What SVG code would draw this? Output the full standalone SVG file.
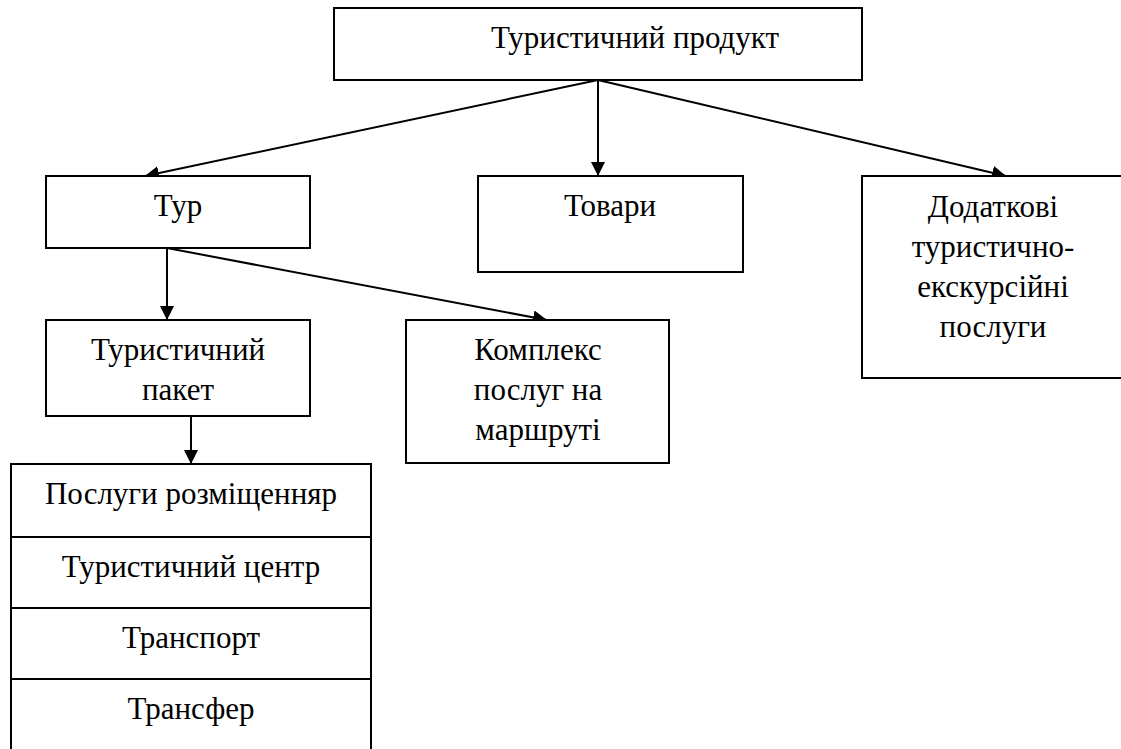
<svg xmlns="http://www.w3.org/2000/svg" width="1121" height="749" viewBox="0 0 1121 749">
<style>
.box{fill:#fff;stroke:#000;stroke-width:2}
.c{stroke:#000;stroke-width:2;fill:none;marker-end:url(#ah)}
</style>
<defs>
<marker id="ah" markerWidth="16" markerHeight="16" refX="14" refY="7" orient="auto" markerUnits="userSpaceOnUse">
<path d="M0,0 L14,7 L0,14 Z" fill="#000"/>
</marker>
</defs>
<rect width="1121" height="749" fill="#fff"/>
<g id="connectors">
<line class="c" x1="598" y1="80" x2="145" y2="176"/>
<line class="c" x1="598" y1="80" x2="598" y2="176"/>
<line class="c" x1="598" y1="80" x2="1006" y2="176"/>
<line class="c" x1="167" y1="248" x2="167" y2="320"/>
<line class="c" x1="167" y1="248" x2="547" y2="320"/>
<line class="c" x1="191" y1="416" x2="191" y2="464"/>
</g>
<g font-family="Liberation Serif" font-size="31" text-anchor="middle" fill="#000">
<g id="product">
<rect class="box" x="334" y="8" width="528" height="72"/>
<text x="635" y="48">Туристичний продукт</text>
</g>
<g id="tour">
<rect class="box" x="46" y="176" width="264" height="72"/>
<text x="178" y="216">Тур</text>
</g>
<g id="goods">
<rect class="box" x="478" y="176" width="265" height="96"/>
<text x="610" y="216">Товари</text>
</g>
<g id="extra">
<rect class="box" x="862" y="176" width="270" height="202"/>
<text x="993" y="217">Додаткові</text>
<text x="993" y="257">туристично-</text>
<text x="993" y="297">екскурсійні</text>
<text x="993" y="337">послуги</text>
</g>
<g id="package">
<rect class="box" x="46" y="320" width="264" height="96"/>
<text x="178" y="360">Туристичний</text>
<text x="178" y="400">пакет</text>
</g>
<g id="complex">
<rect class="box" x="406" y="320" width="263" height="143"/>
<text x="538" y="360">Комплекс</text>
<text x="538" y="400">послуг на</text>
<text x="538" y="440">маршруті</text>
</g>
<g id="services">
<rect class="box" x="11" y="464" width="360" height="300"/>
<line x1="11" y1="537" x2="371" y2="537" stroke="#000" stroke-width="2"/>
<line x1="11" y1="608" x2="371" y2="608" stroke="#000" stroke-width="2"/>
<line x1="11" y1="679" x2="371" y2="679" stroke="#000" stroke-width="2"/>
<text x="191" y="504">Послуги розміщенняр</text>
<text x="191" y="577">Туристичний центр</text>
<text x="191" y="648">Транспорт</text>
<text x="191" y="719">Трансфер</text>
</g>
</g>
</svg>
